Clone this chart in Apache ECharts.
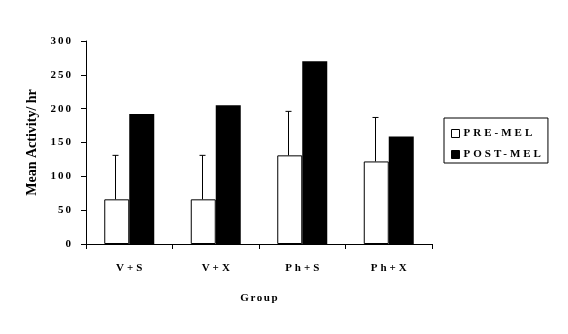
<!DOCTYPE html>
<html>
<head>
<meta charset="utf-8">
<script src="https://cdn.jsdelivr.net/npm/echarts@6/dist/echarts.min.js"></script>
<style>
  html, body { margin: 0; padding: 0; background: #fff; }
  #chart { width: 568px; height: 334px; }
</style>
</head>
<body>
<div id="chart"></div>
<script>
// Mean activity per hour before and after melatonin, by treatment group
const groups = ['V+S', 'V+X', 'Ph+S', 'Ph+X'];
const preMel = [66, 66, 131, 122];
const preMelUpper = [131, 131, 196, 187];   // top of the error whisker
const postMel = [192, 205, 270, 159];
const yTicks = { min: 0, max: 300, interval: 50 };
const seriesNames = ['PRE-MEL', 'POST-MEL'];

const FONT = '"Liberation Serif", "Times New Roman", serif';
const BAR_W = 25;

// Typeset-style tracking: spread the letters of the short labels a little
function trackingFor(s) {
  if (seriesNames.indexOf(s) >= 0 || groups.indexOf(s) >= 0) return 3;
  if (s === 'Group') return 1.6;
  if (/^\d+$/.test(s)) return 2;
  return 0;
}
if ('letterSpacing' in CanvasRenderingContext2D.prototype) {
  const baseFillText = CanvasRenderingContext2D.prototype.fillText;
  CanvasRenderingContext2D.prototype.fillText = function (text, x, y) {
    const str = String(text);
    const sp = trackingFor(str);
    if (!sp) return baseFillText.apply(this, arguments);
    const prevSp = this.letterSpacing;
    const prevAlign = this.textAlign;
    this.letterSpacing = '0px';
    // visible width of the tracked string (no trailing gap)
    const w = this.measureText(str).width + sp * (str.length - 1);
    let left = x;
    if (prevAlign === 'right' || prevAlign === 'end') left = x - w;
    else if (prevAlign === 'center') left = x - w / 2;
    this.textAlign = 'left';
    this.letterSpacing = sp + 'px';
    baseFillText.call(this, str, left, y);
    this.letterSpacing = prevSp;
    this.textAlign = prevAlign;
  };
}

const chart = echarts.init(document.getElementById('chart'));

chart.setOption({
  backgroundColor: '#ffffff',
  animation: false,
  grid: { left: 86, right: 136, top: 41, bottom: 90 },
  legend: {
    orient: 'vertical',
    left: 444, top: 118,
    padding: [10, 28, 3, 7],
    borderColor: '#000', borderWidth: 1,
    itemWidth: 8, itemHeight: 8, itemGap: 10,
    icon: 'rect',
    itemStyle: { borderWidth: 1, borderColor: '#000' },
    textStyle: { fontFamily: FONT, fontWeight: 'bold', fontSize: 11, color: '#000', padding: [0, 0, 0, -1] },
    data: seriesNames
  },
  xAxis: {
    type: 'category',
    data: groups,
    name: 'Group',
    nameLocation: 'middle',
    nameGap: 49,
    nameTextStyle: { fontFamily: FONT, fontWeight: 'bold', fontSize: 11, color: '#000' },
    axisLine: { lineStyle: { color: '#000', width: 1 } },
    axisTick: { show: true, length: 5, lineStyle: { color: '#000' } },
    axisLabel: { fontFamily: FONT, fontWeight: 'bold', fontSize: 11, color: '#000', margin: 19 }
  },
  yAxis: {
    type: 'value',
    min: yTicks.min, max: yTicks.max, interval: yTicks.interval,
    name: 'Mean Activity/ hr',
    nameLocation: 'middle',
    nameGap: 47,
    nameTextStyle: { fontFamily: FONT, fontWeight: 'bold', fontSize: 14, color: '#000' },
    axisLine: { show: true, lineStyle: { color: '#000', width: 1 } },
    axisTick: { show: true, length: 5, lineStyle: { color: '#000' } },
    splitLine: { show: false },
    axisLabel: { fontFamily: FONT, fontWeight: 'bold', fontSize: 11, color: '#000', margin: 15 }
  },
  series: [
    {
      name: seriesNames[0],
      type: 'bar',
      data: preMel,
      barWidth: BAR_W,
      barGap: '0%',
      itemStyle: { color: '#ffffff', borderColor: '#000', borderWidth: 1 }
    },
    {
      name: seriesNames[1],
      type: 'bar',
      data: postMel,
      barWidth: BAR_W,
      barGap: '0%',
      itemStyle: { color: '#000000', borderColor: '#000', borderWidth: 0 }
    },
    {
      // upper error whiskers on the pre-melatonin bars
      type: 'custom',
      silent: true,
      z: 5,
      data: groups.map((g, i) => [i, preMel[i], preMelUpper[i]]),
      renderItem: function (params, api) {
        const base = api.coord([api.value(0), api.value(1)]);
        const top = api.coord([api.value(0), api.value(2)]);
        const x = Math.floor(base[0] - BAR_W / 2) - 0.5;
        const half = 3;
        const style = { stroke: '#000', lineWidth: 1 };
        return {
          type: 'group',
          children: [
            { type: 'line', shape: { x1: x, y1: base[1], x2: x, y2: top[1] }, style: style },
            { type: 'line', shape: { x1: x - half, y1: top[1], x2: x + half, y2: top[1] }, style: style }
          ]
        };
      }
    }
  ]
});
</script>
</body>
</html>
